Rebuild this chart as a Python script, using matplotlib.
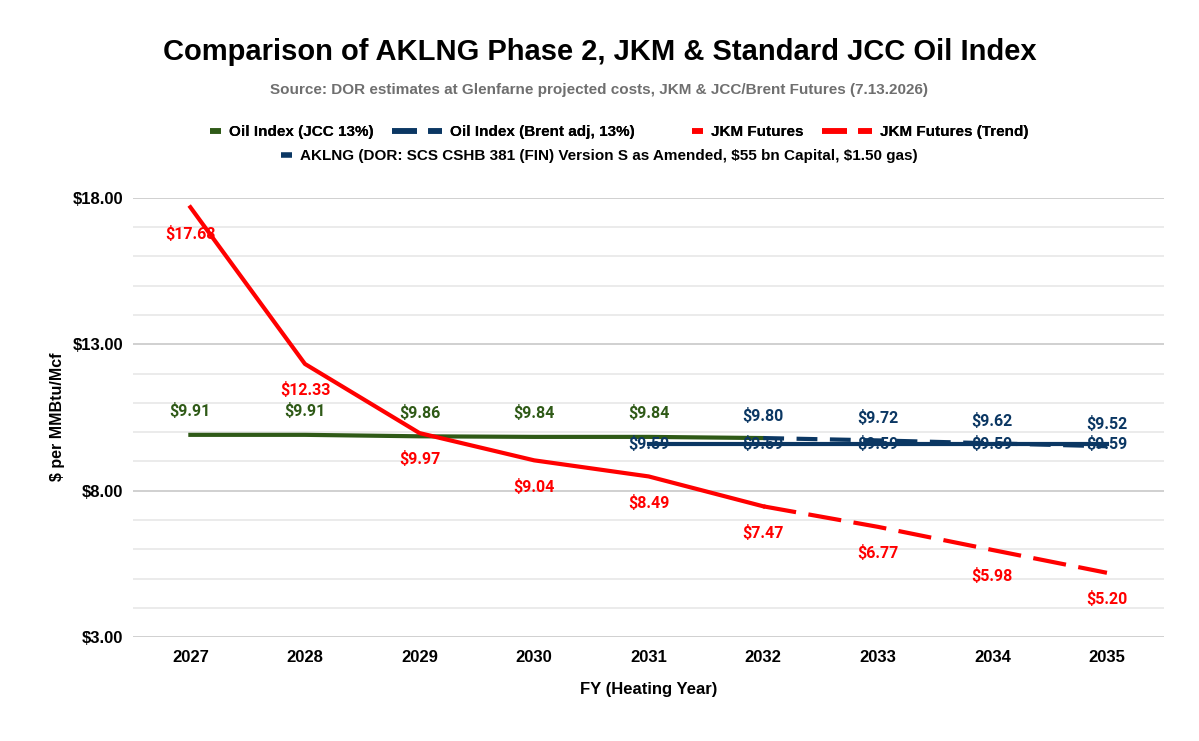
import matplotlib.pyplot as plt
from matplotlib.lines import Line2D
from matplotlib.legend_handler import HandlerBase
from matplotlib.ticker import FuncFormatter, FixedLocator, MultipleLocator

# 数据
years = ["2027", "2028", "2029", "2030", "2031", "2032", "2033", "2034", "2035"]
jcc_years = ["2027", "2028", "2029", "2030", "2031", "2032"]
jcc_vals = [9.91, 9.91, 9.86, 9.84, 9.84, 9.80]
brent_years = ["2032", "2033", "2034", "2035"]
brent_vals = [9.80, 9.72, 9.62, 9.52]
aklng_years = ["2031", "2032", "2033", "2034", "2035"]
aklng_vals = [9.59, 9.59, 9.59, 9.59, 9.59]
jkm_years = ["2027", "2028", "2029", "2030", "2031", "2032"]
jkm_vals = [17.68, 12.33, 9.97, 9.04, 8.49, 7.47]
trend_years = ["2032", "2033", "2034", "2035"]
trend_vals = [7.47, 6.77, 5.98, 5.20]
y_ticks = [3, 8, 13, 18]

GREEN = "#2f5a17"
NAVY = "#0b3763"
RED = "#ff0000"
TXT = ["Liberation Sans", "DejaVu Sans"]
LBL = ["Roboto", "DejaVu Sans"]

plt.rcParams['font.family'] = TXT

pos = {y: i for i, y in enumerate(years)}
def xs(ys):
    return [pos[y] for y in ys]


# 图例里实线只画一小段，贴着文字
class ShortHandler(HandlerBase):
    def create_artists(self, legend, orig, xdescent, ydescent, width, height, fontsize, trans):
        y = height / 2 - ydescent
        ln = Line2D([width - 8, width], [y, y], color=orig.get_color(), lw=4,
                    solid_capstyle="butt", transform=trans)
        return [ln]


fig = plt.figure(figsize=(11.99, 7.41), dpi=100)
ax = fig.add_axes([0.111, 0.140, 0.860, 0.593])

ax.plot(xs(jcc_years), jcc_vals, color=GREEN, lw=3, zorder=3)
ax.plot(xs(brent_years), brent_vals, color=NAVY, lw=3, dashes=(5, 3), zorder=3)
ax.plot(xs(aklng_years), aklng_vals, color=NAVY, lw=3, zorder=3)
ax.plot(xs(jkm_years), jkm_vals, color=RED, lw=3, zorder=4)
ax.plot(xs(trend_years), trend_vals, color=RED, lw=3, dashes=(8, 3), zorder=4)

def label(x, y, color, dy):
    ax.annotate(f"${y:.2f}", (x, y), xytext=(0, dy), textcoords="offset points",
                ha="center", va="center", color=color, fontsize=11.5,
                fontweight="bold", family=LBL, zorder=5)

for x, v in zip(xs(jcc_years[:5]), jcc_vals[:5]):
    label(x, v, GREEN, 17)
for x, v in zip(xs(brent_years), brent_vals):
    label(x, v, NAVY, 16)
for x, v in zip(xs(aklng_years), aklng_vals):
    label(x, v, NAVY, 0)
for x, v in zip(xs(jkm_years), jkm_vals):
    label(x, v, RED, -19)
for x, v in zip(xs(trend_years[1:]), trend_vals[1:]):
    label(x, v, RED, -19)

ax.set_xlim(-0.5, len(years) - 0.5)
ax.set_ylim(3, 18)
ax.set_xticks(range(len(years)))
ax.set_xticklabels(years)
ax.yaxis.set_major_locator(FixedLocator(y_ticks))
ax.yaxis.set_minor_locator(MultipleLocator(1))
ax.yaxis.set_major_formatter(FuncFormatter(lambda v, p: f"${v:.2f}"))
ax.grid(axis="y", which="major", color="#c4c4c4", lw=1.1)
ax.grid(axis="y", which="minor", color="#e6e6e6", lw=1.1)
ax.set_axisbelow(True)
for s in ax.spines.values():
    s.set_visible(False)
ax.tick_params(axis="both", which="both", length=0)
ax.tick_params(axis="x", pad=9, labelsize=12)
ax.tick_params(axis="y", pad=7, labelsize=12)
for t in ax.get_xticklabels() + ax.get_yticklabels():
    t.set_fontweight("bold")

fig.text(0.5, 0.930, "Comparison of AKLNG Phase 2, JKM & Standard JCC Oil Index",
         ha="center", va="center", fontsize=21, fontweight="bold")
fig.text(0.5, 0.879, "Source: DOR estimates at Glenfarne projected costs, JKM & JCC/Brent Futures (7.13.2026)",
         ha="center", va="center", fontsize=11, fontweight="bold", color="#6f6f6f")
fig.text(0.048, 0.437, "$ per MMBtu/Mcf", rotation=90, ha="center", va="center",
         fontsize=11.5, fontweight="bold")
fig.text(0.541, 0.069, "FY (Heating Year)", ha="center", va="center",
         fontsize=12, fontweight="bold")

# 图例
short = ShortHandler()
h1 = [
    Line2D([], [], color=GREEN),
    Line2D([], [], color=NAVY, lw=4, dashes=(4.5, 2)),
    Line2D([], [], color=RED),
    Line2D([], [], color=RED, lw=4, dashes=(4.5, 2)),
]
n1 = ["Oil Index (JCC 13%)", "Oil Index (Brent adj, 13%)", "JKM Futures", "JKM Futures (Trend)"]
hmap1 = {h1[0]: short, h1[2]: short}
leg1 = fig.legend(h1, n1, loc="center", bbox_to_anchor=(0.5, 0.822), ncol=4, frameon=False,
                  handlelength=3.3, columnspacing=1.2, handletextpad=0.5, handler_map=hmap1,
                  prop={"family": TXT, "weight": "bold", "size": 11})
h2 = [Line2D([], [], color=NAVY)]
n2 = [r"AKLNG (DOR: SCS CSHB 381 (FIN) Version S as Amended, \$55 bn Capital, \$1.50 gas)"]
fig.legend(h2, n2, loc="center", bbox_to_anchor=(0.5, 0.789), frameon=False,
           handlelength=0.7, handletextpad=0.5, handler_map={h2[0]: short},
           prop={"family": TXT, "weight": "bold", "size": 11})
fig.add_artist(leg1)

fig.savefig("out.png", dpi=100)
